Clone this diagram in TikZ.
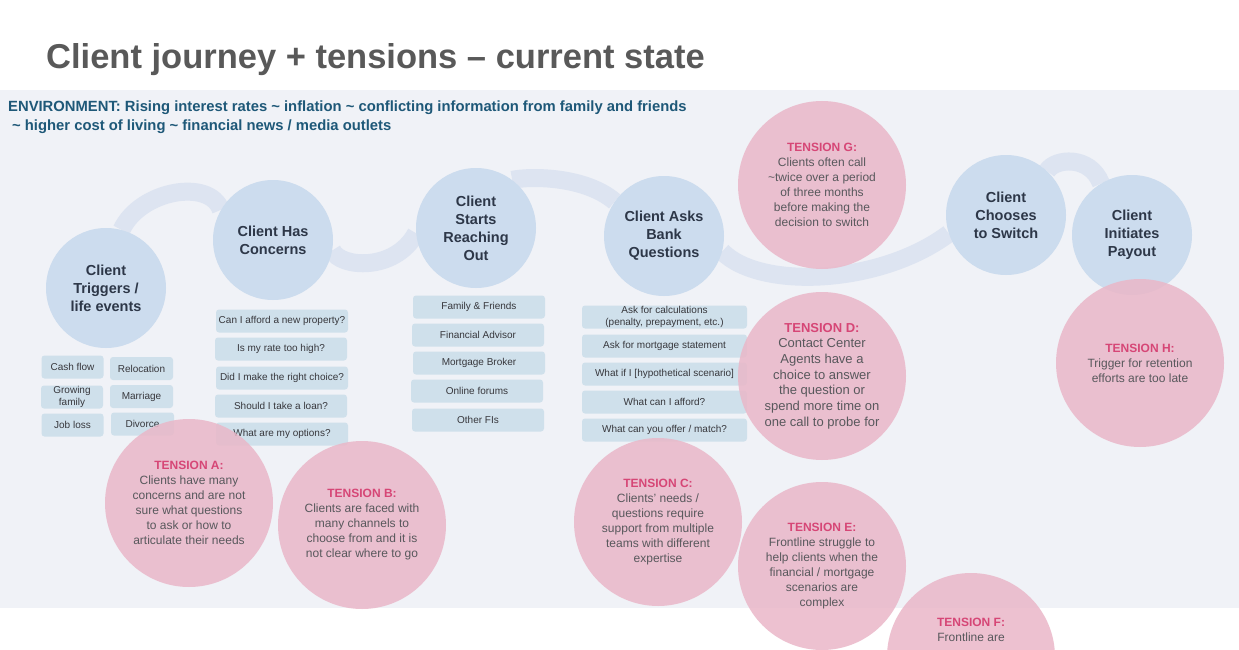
\documentclass[tikz,border=0pt]{standalone}
\usepackage{fontspec}
\setmainfont{Liberation Sans}
\definecolor{panelc}{RGB}{240,242,247}
\definecolor{bandc}{RGB}{221,228,241}
\definecolor{bluec}{RGB}{204,220,238}
\definecolor{boxc}{RGB}{207,224,235}
\definecolor{boxtxt}{RGB}{55,55,60}
\definecolor{pinkc}{RGB}{234,183,200}
\definecolor{headc}{RGB}{214,70,118}
\definecolor{bodyc}{RGB}{88,88,92}
\definecolor{titlec}{RGB}{89,89,89}
\definecolor{envc}{RGB}{30,88,120}
\definecolor{navyc}{RGB}{45,55,72}
\newcommand\tensionhd[1]{{\color{headc}\bfseries #1}}
\pgfdeclarelayer{bglayer}
\pgfsetlayers{bglayer,main}
\tikzset{
  stagecirc/.style={circle, fill=bluec, minimum size=120pt, inner sep=0pt, align=center,
    text=navyc, font=\bfseries\fontsize{14.5}{18}\selectfont},
  tensioncirc/.style={circle, fill=pinkc, fill opacity=0.85, text opacity=1, minimum size=168pt,
    inner sep=0pt, align=center, text=bodyc, font=\fontsize{12}{15}\selectfont},
  itembox/.style={fill=boxc, rounded corners=3pt, inner sep=0pt, minimum height=23pt,
    text=boxtxt, font=\fontsize{10}{11.5}\selectfont, align=center},
  bandline/.style={draw=bandc, line width=18pt},
  envtext/.style={anchor=base west, inner sep=0pt, text=envc, font=\bfseries\fontsize{14.8}{17}\selectfont}
}
\begin{document}
\begin{tikzpicture}[x=1pt,y=-1pt]
\useasboundingbox (0,0) rectangle (1239,650);
\clip (0,0) rectangle (1239,650);
\begin{pgfonlayer}{bglayer}
  \fill[white] (0,0) rectangle (1239,650);
  \fill[panelc] (0,90) rectangle (1239,608);
\end{pgfonlayer}

% title and environment
\node[anchor=base west, inner sep=0pt, text=titlec, font=\bfseries\fontsize{34.5}{40}\selectfont] (title) at (46,69) {Client journey + tensions – current state};
\node[envtext] (env1) at (8,112) {ENVIRONMENT: Rising interest rates \textasciitilde{} inflation \textasciitilde{} conflicting information from family and friends};
\node[envtext] (env2) at (12,131) {\textasciitilde{} higher cost of living \textasciitilde{} financial news / media outlets};

% stages
\node[stagecirc] (c1) at (106,288) {Client\\Triggers /\\life events};
\node[stagecirc] (c2) at (273,240) {Client Has\\Concerns};
\node[stagecirc] (c3) at (476,228) {Client\\Starts\\Reaching\\Out};
\node[stagecirc] (c4) at (664,236) {Client Asks\\Bank\\Questions};
\node[stagecirc] (c5) at (1006,215) {Client\\Chooses\\to Switch};
\node[stagecirc] (c6) at (1132,235) {Client\\Initiates\\Payout};

% journey band
\begin{pgfonlayer}{bglayer}
  \draw[bandline] (c1.75) .. controls (140,190) and (210,178) .. (c2.150);
  \draw[bandline] (c2.-10) .. controls (340,268) and (395,272) .. (c3.185);
  \draw[bandline] (c3.53) .. controls (530,176) and (585,176) .. (c4.145);
  \draw[bandline] (c4.-15) .. controls (760,290) and (880,285) .. (c5.198);
  \draw[bandline] (c5.47) .. controls (1055,158) and (1090,155) .. (c6.121);
\end{pgfonlayer}

% boxes: triggers
\node[itembox, minimum width=62pt] (b11) at (72.5,367) {Cash flow};
\node[itembox, minimum width=63pt] (b12) at (141.5,368.5) {Relocation};
\node[itembox, minimum width=62pt] (b13) at (72,397) {Growing\\family};
\node[itembox, minimum width=63pt] (b14) at (141.5,396.5) {Marriage};
\node[itembox, minimum width=62pt] (b15) at (72.5,425) {Job loss};
\node[itembox, minimum width=63pt] (b16) at (142.5,424) {Divorce};
% concerns
\node[itembox, minimum width=132pt] (b21) at (282,321) {Can I afford a new property?};
\node[itembox, minimum width=132pt] (b22) at (281,349) {Is my rate too high?};
\node[itembox, minimum width=132pt] (b23) at (282,378) {Did I make the right choice?};
\node[itembox, minimum width=132pt] (b24) at (281,406) {Should I take a loan?};
\node[itembox, minimum width=132pt] (b25) at (282,434) {What are my options?};
% reaching out
\node[itembox, minimum width=132pt] (b31) at (479,307) {Family \& Friends};
\node[itembox, minimum width=132pt] (b32) at (478,335) {Financial Advisor};
\node[itembox, minimum width=132pt] (b33) at (479,363) {Mortgage Broker};
\node[itembox, minimum width=132pt] (b34) at (477,391) {Online forums};
\node[itembox, minimum width=132pt] (b35) at (478,420) {Other FIs};
% bank questions
\node[itembox, minimum width=165pt] (b41) at (664.5,317) {Ask for calculations\\(penalty, prepayment, etc.)};
\node[itembox, minimum width=165pt] (b42) at (664.5,346) {Ask for mortgage statement};
\node[itembox, minimum width=165pt] (b43) at (664.5,374) {What if I [hypothetical scenario]};
\node[itembox, minimum width=165pt] (b44) at (664.5,402) {What can I afford?};
\node[itembox, minimum width=165pt] (b45) at (664.5,430) {What can you offer / match?};

% tensions
\node[tensioncirc] (tG) at (822,185) {\tensionhd{TENSION G:}\\Clients often call\\\textasciitilde twice over a period\\of three months\\before making the\\decision to switch};
\node[tensioncirc] (tH) at (1140,363) {\tensionhd{TENSION H:}\\Trigger for retention\\efforts are too late};
\node[tensioncirc] (tA) at (189,503) {\tensionhd{TENSION A:}\\Clients have many\\concerns and are not\\sure what questions\\to ask or how to\\articulate their needs};
\node[tensioncirc] (tB) at (362,525) {\tensionhd{TENSION B:}\\Clients are faced with\\many channels to\\choose from and it is\\not clear where to go};
\node[tensioncirc, font=\fontsize{13}{15.7}\selectfont] (tD) at (822,376) {\tensionhd{TENSION D:}\\Contact Center\\Agents have a\\choice to answer\\the question or\\spend more time on\\one call to probe for};
\node[tensioncirc] (tC) at (658,522) {\tensionhd{TENSION C:}\\Clients’ needs /\\questions require\\support from multiple\\teams with different\\expertise};
\node[tensioncirc] (tE) at (822,566) {\tensionhd{TENSION E:}\\Frontline struggle to\\help clients when the\\financial / mortgage\\scenarios are\\complex};
\node[tensioncirc] (tF) at (971,657) {};
\node[inner sep=0pt, align=center, text=bodyc, font=\fontsize{12}{15}\selectfont] (tFtxt) at (971,630) {\tensionhd{TENSION F:}\\Frontline are};
\end{tikzpicture}
\end{document}
